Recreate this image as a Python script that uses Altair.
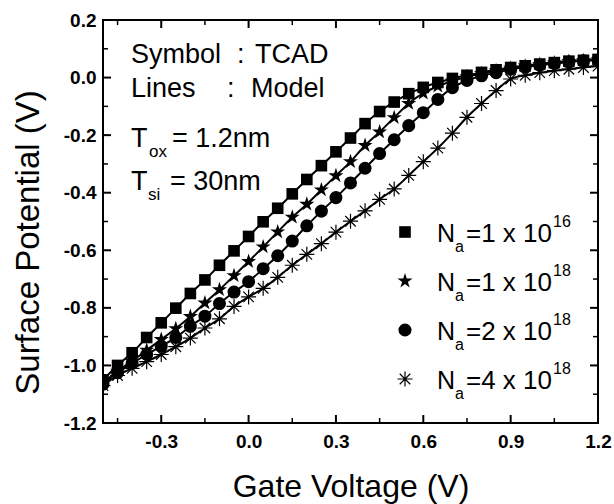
import altair as alt
import pandas as pd

# ---------------- data ----------------
gate_voltage = [-0.50, -0.45, -0.40, -0.35, -0.30, -0.25, -0.20, -0.15, -0.10, -0.05,
                0.00, 0.05, 0.10, 0.15, 0.20, 0.25, 0.30, 0.35, 0.40, 0.45,
                0.50, 0.55, 0.60, 0.65, 0.70, 0.75, 0.80, 0.85, 0.90, 0.95,
                1.00, 1.05, 1.10, 1.15, 1.20]

psi_na_1e16 = [-1.050, -1.000, -0.956, -0.903, -0.852, -0.801, -0.750, -0.703, -0.652, -0.602,
               -0.552, -0.501, -0.454, -0.404, -0.354, -0.306, -0.258, -0.210, -0.160, -0.118,
               -0.085, -0.056, -0.034, -0.017, -0.003, 0.008, 0.018, 0.027, 0.035, 0.041,
               0.047, 0.052, 0.057, 0.060, 0.063]

psi_na_1e18 = [-1.060, -1.020, -0.985, -0.947, -0.910, -0.872, -0.830, -0.783, -0.737, -0.688,
               -0.639, -0.588, -0.536, -0.485, -0.440, -0.390, -0.341, -0.292, -0.236, -0.189,
               -0.139, -0.090, -0.054, -0.030, -0.012, 0.003, 0.014, 0.024, 0.033, 0.040,
               0.046, 0.051, 0.056, 0.059, 0.062]

psi_na_2e18 = [-1.065, -1.025, -0.993, -0.962, -0.933, -0.903, -0.864, -0.829, -0.785, -0.745,
               -0.709, -0.664, -0.619, -0.568, -0.515, -0.464, -0.417, -0.366, -0.315, -0.264,
               -0.216, -0.167, -0.122, -0.076, -0.035, -0.010, 0.006, 0.017, 0.029, 0.037,
               0.043, 0.049, 0.054, 0.058, 0.061]

psi_na_4e18 = [-1.070, -1.035, -1.010, -0.987, -0.962, -0.935, -0.905, -0.870, -0.838, -0.795,
               -0.762, -0.732, -0.694, -0.652, -0.614, -0.577, -0.537, -0.499, -0.463, -0.423,
               -0.387, -0.340, -0.292, -0.245, -0.193, -0.138, -0.090, -0.045, -0.005, 0.008,
               0.017, 0.024, 0.029, 0.035, 0.040]

series_names = ["Na=1e16", "Na=1e18", "Na=2e18", "Na=4e18"]

x_major_ticks = [-0.3, 0.0, 0.3, 0.6, 0.9, 1.2]
x_minor_ticks = [-0.45, -0.15, 0.15, 0.45, 0.75, 1.05]
y_major_ticks = [0.2, 0.0, -0.2, -0.4, -0.6, -0.8, -1.0, -1.2]
y_minor_ticks = [0.1, -0.1, -0.3, -0.5, -0.7, -0.9, -1.1]

# ---------------- build tables ----------------
all_series = [psi_na_1e16, psi_na_1e18, psi_na_2e18, psi_na_4e18]
frames = []
for name, vals in zip(series_names, all_series):
    frames.append(pd.DataFrame({"x": gate_voltage, "y": vals, "series": name}))
df = pd.concat(frames, ignore_index=True)

FONT = "Liberation Sans"
W, H = 495, 403

xscale = alt.Scale(domain=[-0.5, 1.2], nice=False, zero=False)
yscale = alt.Scale(domain=[-1.2, 0.2], nice=False, zero=False)

label_expr = "datum.value < 0 ? '-' + format(-datum.value, '.1f') : format(datum.value, '.1f')"

xaxis = alt.Axis(values=x_major_ticks, labelExpr=label_expr, labelFont=FONT,
                 labelFontWeight="bold", labelFontSize=19, labelColor="black",
                 labelPadding=9, ticks=False, tickSize=0, domain=False, grid=False,
                 labelFlush=False, labelOverlap=False,
                 title="Gate Voltage (V)", titleFont=FONT, titleFontSize=32,
                 titleFontWeight="normal", titleColor="black",
                 titleBaseline="alphabetic", titleY=73)
yaxis = alt.Axis(values=y_major_ticks, labelExpr=label_expr, labelFont=FONT,
                 labelFontWeight="bold", labelFontSize=19, labelColor="black",
                 labelPadding=7, ticks=False, tickSize=0, domain=False, grid=False,
                 labelFlush=False, labelOverlap=False,
                 title="Surface Potential (V)", titleFont=FONT, titleFontSize=33,
                 titleFontWeight="normal", titleColor="black",
                 titleBaseline="alphabetic", titleX=-65, titleY=222)

X = alt.X("x:Q", scale=xscale, axis=xaxis)
Y = alt.Y("y:Q", scale=yscale, axis=yaxis)

lines = alt.Chart(df).mark_line(color="black", strokeWidth=2, interpolate="monotone",
                                clip=True).encode(x=X, y=Y, detail="series:N")

STAR = ("M0,-1L0.2245,-0.309L0.951,-0.309L0.363,0.118L0.588,0.809L0,0.382"
        "L-0.588,0.809L-0.363,0.118L-0.951,-0.309L-0.2245,-0.309Z")
ASTER = "M0,-1L0,1M-1,0L1,0M-0.7,-0.7L0.7,0.7M-0.7,0.7L0.7,-0.7"

marker_styles = [
    dict(shape="square", size=135, filled=True, strokeWidth=0),
    dict(shape=STAR, size=250, filled=True, strokeWidth=0),
    dict(shape="circle", size=170, filled=True, strokeWidth=0),
    dict(shape=ASTER, size=225, filled=False, strokeWidth=1.2),
]

point_layers = []
for name, st in zip(series_names, marker_styles):
    point_layers.append(
        alt.Chart(df).transform_filter(alt.datum.series == name)
        .mark_point(color="black", opacity=1, clip=True, **st)
        .encode(x=X, y=Y)
    )

# ---------------- inward ticks on all four sides ----------------
def xticks(vals, length, sw):
    d = pd.DataFrame({"x": vals})
    bottom = alt.Chart(d).mark_rule(color="black", strokeWidth=sw).encode(
        x=X, y=alt.value(H), y2=alt.value(H - length))
    top = alt.Chart(d).mark_rule(color="black", strokeWidth=sw).encode(
        x=X, y=alt.value(0), y2=alt.value(length))
    return [bottom, top]


def yticks(vals, length, sw):
    d = pd.DataFrame({"y": vals})
    left = alt.Chart(d).mark_rule(color="black", strokeWidth=sw).encode(
        y=Y, x=alt.value(0), x2=alt.value(length))
    right = alt.Chart(d).mark_rule(color="black", strokeWidth=sw).encode(
        y=Y, x=alt.value(W), x2=alt.value(W - length))
    return [left, right]


tick_layers = (xticks(x_major_ticks, 8, 2) + xticks(x_minor_ticks, 5, 1.5)
               + yticks(y_major_ticks, 8, 2) + yticks(y_minor_ticks, 5, 1.5))

# ---------------- annotations ----------------
dummy = pd.DataFrame({"a": [0]})


def txt(text, x, y, size):
    return alt.Chart(dummy).mark_text(text=text, align="left", baseline="alphabetic",
                                      font=FONT, fontSize=size, color="black").encode(
        x=alt.value(x), y=alt.value(y))


ann = [
    txt("Symbol", 28, 43, 27), txt(":", 134, 43, 27), txt("TCAD", 152, 43, 27),
    txt("Lines", 28, 77, 27), txt(":", 124, 77, 27), txt("Model", 148, 77, 27),
    txt("T", 28, 127, 27), txt("ox", 46, 137, 17), txt("= 1.2nm", 69, 127, 27),
    txt("T", 28, 170, 27), txt("si", 45, 180, 17), txt("= 30nm", 67, 170, 27),
]

legend_labels = [("=1 x 10", "16"), ("=1 x 10", "18"), ("=2 x 10", "18"), ("=4 x 10", "18")]
legend_rows_y = [212, 261, 310, 359]
legend = []
for (main, sup), cy, st in zip(legend_labels, legend_rows_y, marker_styles):
    legend.append(alt.Chart(dummy).mark_point(color="black", opacity=1, **st).encode(
        x=alt.value(302), y=alt.value(cy)))
    legend.append(txt("N", 334, cy + 10, 25))
    legend.append(txt("a", 352, cy + 20, 16))
    legend.append(txt(main, 363, cy + 10, 26))
    legend.append(txt(sup, 450, cy - 5, 16))

chart = alt.layer(lines, *point_layers, *tick_layers, *ann, *legend).properties(
    width=W, height=H,
    autosize=alt.AutoSizeParams(type="none"),
    padding={"left": 103, "top": 20, "right": 16, "bottom": 81},
    background="white",
).configure_view(stroke="black", strokeWidth=2)

chart.save("out.html", embed_options={"renderer": "svg", "actions": False})
